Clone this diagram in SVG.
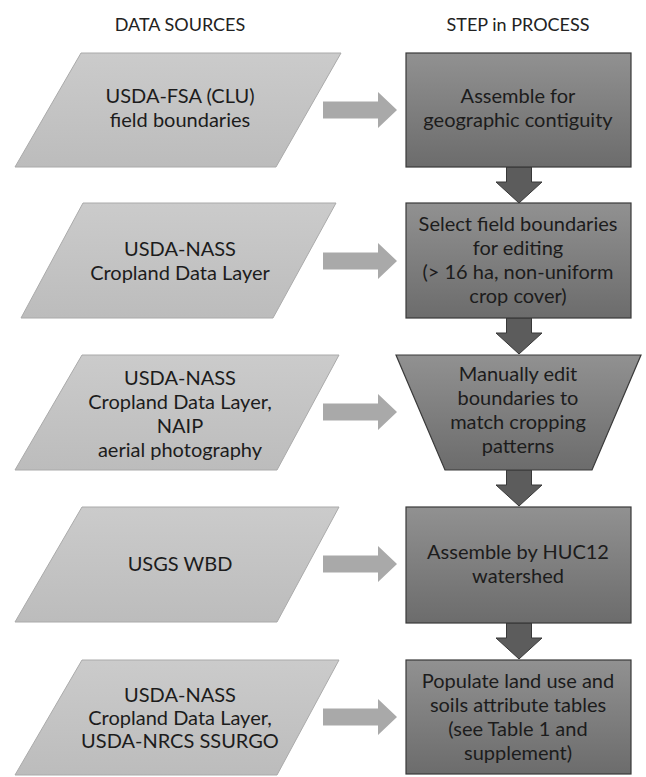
<svg xmlns="http://www.w3.org/2000/svg" width="646" height="777" viewBox="0 0 646 777">
<defs>
  <linearGradient id="gSrc" x1="0" y1="0" x2="0" y2="1">
    <stop offset="0" stop-color="#cbcbcb"/>
    <stop offset="1" stop-color="#bcbcbc"/>
  </linearGradient>
  <linearGradient id="gStep" x1="0" y1="0" x2="0" y2="1">
    <stop offset="0" stop-color="#919191"/>
    <stop offset="1" stop-color="#6c6c6c"/>
  </linearGradient>
  <path id="hArrow" d="M0,-8.5 H55 V-18 L74,0 L55,18 V8.5 H0 Z"/>
  <path id="vArrow" d="M-12.5,0 H12.5 V15 H23 L0,36 L-23,15 H-12.5 Z"/>
</defs>
<style>
  .src { fill: url(#gSrc); stroke: #aaaaaa; stroke-width: 1; }
  .step { fill: url(#gStep); stroke: #3a3a3a; stroke-width: 1.2; }
  .ha { fill: #a9a9a9; }
  .va { fill: #5c5c5c; stroke: #383838; stroke-width: 1; }
  text { font-family: Lato, "Liberation Sans", sans-serif; font-size: 20px; fill: #1c1c1c; text-anchor: middle; }
  .hdr { font-size: 18px; fill: #222222; }
</style>
<rect width="646" height="777" fill="#ffffff"/>

<g id="headers">
  <text class="hdr" x="180" y="31">DATA SOURCES</text>
  <text class="hdr" x="518" y="31">STEP in PROCESS</text>
</g>

<g id="connectors">
  <use href="#hArrow" class="ha" transform="translate(323,110)"/>
  <use href="#hArrow" class="ha" transform="translate(323,261)"/>
  <use href="#hArrow" class="ha" transform="translate(323,412)"/>
  <use href="#hArrow" class="ha" transform="translate(323,564)"/>
  <use href="#hArrow" class="ha" transform="translate(323,717)"/>
  <use href="#vArrow" class="va" transform="translate(519,167)"/>
  <use href="#vArrow" class="va" transform="translate(519,318)"/>
  <use href="#vArrow" class="va" transform="translate(519,470)"/>
  <use href="#vArrow" class="va" transform="translate(519,623)"/>
</g>

<g id="src1">
  <polygon class="src" points="81,53 341,53 276,167 15,167"/>
  <text x="180" y="103">USDA-FSA (CLU)</text>
  <text x="180" y="127">field boundaries</text>
</g>
<g id="src2">
  <polygon class="src" points="83,203 336,203 273,318 21,318"/>
  <text x="180" y="256">USDA-NASS</text>
  <text x="180" y="280">Cropland Data Layer</text>
</g>
<g id="src3">
  <polygon class="src" points="82,355 339,355 277,470 15,470"/>
  <text x="180" y="385">USDA-NASS</text>
  <text x="180" y="409">Cropland Data Layer,</text>
  <text x="180" y="433">NAIP</text>
  <text x="180" y="457">aerial photography</text>
</g>
<g id="src4">
  <polygon class="src" points="82,507 339,507 277,622 15,622"/>
  <text x="180" y="571">USGS WBD</text>
</g>
<g id="src5">
  <polygon class="src" points="82,660 339,660 277,775 15,775"/>
  <text x="180" y="702">USDA-NASS</text>
  <text x="180" y="725">Cropland Data Layer,</text>
  <text x="180" y="748">USDA-NRCS SSURGO</text>
</g>

<g id="step1">
  <rect class="step" x="406" y="53" width="225" height="114"/>
  <text x="518" y="103">Assemble for</text>
  <text x="518" y="127">geographic contiguity</text>
</g>
<g id="step2">
  <rect class="step" x="406" y="203" width="225" height="115"/>
  <text x="518" y="231">Select field boundaries</text>
  <text x="518" y="255">for editing</text>
  <text x="518" y="279">(&gt; 16 ha, non-uniform</text>
  <text x="518" y="303">crop cover)</text>
</g>
<g id="step3">
  <polygon class="step" points="396,355 641,355 592,470 445,470"/>
  <text x="518" y="381">Manually edit</text>
  <text x="518" y="405">boundaries to</text>
  <text x="518" y="429">match cropping</text>
  <text x="518" y="453">patterns</text>
</g>
<g id="step4">
  <rect class="step" x="406" y="507" width="225" height="116"/>
  <text x="518" y="559">Assemble by HUC12</text>
  <text x="518" y="583">watershed</text>
</g>
<g id="step5">
  <rect class="step" x="406" y="660" width="225" height="114"/>
  <text x="518" y="688">Populate land use and</text>
  <text x="518" y="712">soils attribute tables</text>
  <text x="518" y="736">(see Table 1 and</text>
  <text x="518" y="760">supplement)</text>
</g>
</svg>
